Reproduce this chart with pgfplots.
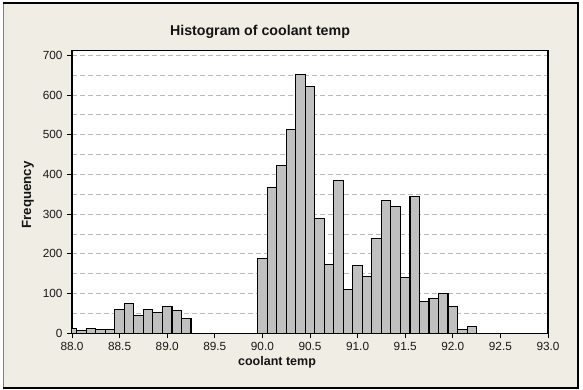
\documentclass[border=0pt]{standalone}
\usepackage{fontspec}
\setmainfont{Liberation Sans}
\usepackage{pgfplots}
\pgfplotsset{compat=1.18}
\definecolor{beige}{RGB}{240,237,228}
\definecolor{barfill}{RGB}{192,192,192}
\definecolor{gridgray}{RGB}{185,185,185}
\begin{document}
\begin{tikzpicture}[x=1pt,y=1pt]
\useasboundingbox (0,0) rectangle (583,390);
\fill[white] (0,0) rectangle (583,390);
\fill[beige] (3,2) rectangle (578,387);
\draw[gray, line width=0.8pt] (3,2) -- (3,387);
\draw[black, line width=1.2pt] (3,387) -- (578,387) -- (578,2) -- (3,2);
\begin{axis}[
  at={(72pt,56.7pt)}, anchor=south west,
  scale only axis, width=476pt, height=283pt,
  xmin=88, xmax=93, ymin=0, ymax=712.5,
  axis background/.style={fill=white},
  axis line style={black, line width=1.2pt},
  tick align=outside, tick pos=left,
  major tick length=5pt, minor tick length=0pt,
  tick style={black, line width=0.9pt},
  xtick={88,88.5,89,89.5,90,90.5,91,91.5,92,92.5,93},
  ytick={0,100,200,300,400,500,600,700},
  minor ytick={50,150,250,350,450,550,650},
  ymajorgrids, yminorgrids,
  major grid style={gridgray, line width=0.8pt, dash pattern=on 5pt off 3pt},
  minor grid style={gridgray, line width=0.8pt, dash pattern=on 5pt off 3pt},
  /pgf/number format/assume math mode=true,
  xticklabel style={/pgf/number format/.cd, fixed, fixed zerofill, precision=1},
  ticklabel style={font=\fontsize{11.8}{12}\selectfont, text=black!90},
  yticklabel style={xshift=-1pt},
]
\addplot[ybar, bar width=0.1, bar shift=0pt, fill=barfill, draw=black, line width=1.1pt] coordinates {
(88.0,13) (88.1,7) (88.2,13) (88.3,10) (88.4,10) (88.5,60) (88.6,75) (88.7,45) (88.8,60) (88.9,53) (89.0,68) (89.1,58) (89.2,38)
(90.0,188) (90.1,367) (90.2,422) (90.3,513) (90.4,651) (90.5,621) (90.6,288) (90.7,173) (90.8,385) (90.9,110)
(91.0,171) (91.1,143) (91.2,239) (91.3,334) (91.4,319) (91.5,141) (91.6,345) (91.7,80) (91.8,88) (91.9,101)
(92.0,68) (92.1,10) (92.2,18)
};
\end{axis}
\node[anchor=base, font=\bfseries\fontsize{14.2}{16}\selectfont, text=black!92] at (260,354) {Histogram of coolant temp};
\node[anchor=base, font=\bfseries\fontsize{12.5}{14}\selectfont, text=black!92] at (277,24) {coolant temp};
\node[rotate=90, font=\bfseries\fontsize{13.3}{15}\selectfont, text=black!92] at (28,195) {Frequency};
\end{tikzpicture}
\end{document}
